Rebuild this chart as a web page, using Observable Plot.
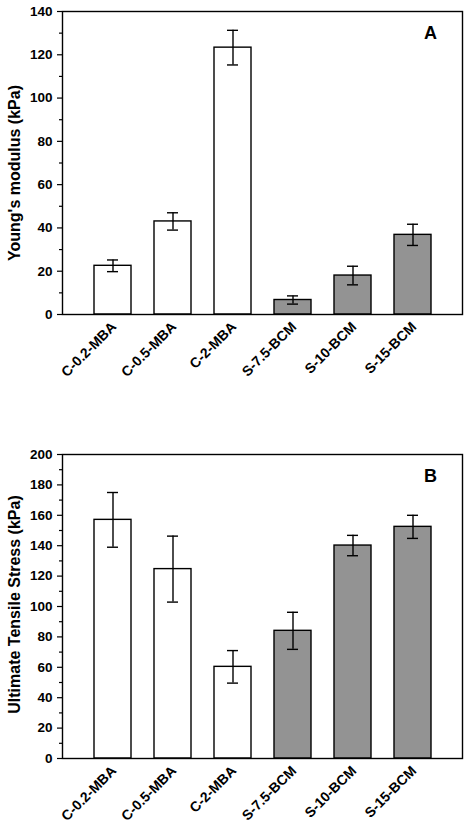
<!DOCTYPE html>
<html>
<head>
<meta charset="utf-8">
<script src="https://cdn.jsdelivr.net/npm/d3@7"></script>
<script src="https://cdn.jsdelivr.net/npm/@observablehq/plot@0.6"></script>
<style>
  html, body { margin: 0; padding: 0; background: #fff; }
  #wrap { width: 468px; }
  svg { display: block; }
</style>
</head>
<body>
<div id="wrap"></div>
<script>
const categories = ["C-0.2-MBA", "C-0.5-MBA", "C-2-MBA", "S-7.5-BCM", "S-10-BCM", "S-15-BCM"];
const groups = ["C", "C", "C", "S", "S", "S"];
const modulus = [22.5, 43, 123.3, 6.7, 18, 36.8];
const modulusErr = [2.7, 4, 8, 1.9, 4.3, 4.9];
const stress = [157, 124.6, 60.3, 84, 140.1, 152.4];
const stressErr = [18, 21.7, 10.7, 12.2, 6.7, 7.6];
const groupColors = ["#ffffff", "#939393"];
const modulusTicks = d3.range(0, 141, 20);
const modulusMinor = d3.range(10, 140, 20);
const stressTicks = d3.range(0, 201, 20);
const stressMinor = d3.range(10, 200, 20);

const FONT = "'Liberation Sans', Arial, Helvetica, sans-serif";

function panel({values, errs, yMax, ticks, minor, title, letter, titleDy, marginTop, marginBottom}) {
  const data = categories.map((c, i) => ({cat: c, grp: groups[i], v: values[i], e: errs[i]}));
  return Plot.plot({
    width: 468,
    height: 414,
    marginLeft: 62,
    marginRight: 6,
    marginTop,
    marginBottom,
    style: {fontFamily: FONT, fontSize: "14px", fontWeight: "bold", color: "black", background: "white"},
    x: {type: "band", domain: categories, paddingInner: 0.39, paddingOuter: 0.5, axis: null},
    y: {domain: [0, yMax], axis: null},
    color: {domain: ["C", "S"], range: groupColors},
    marks: [
      Plot.barY(data, {x: "cat", y: "v", fill: "grp", stroke: "black", strokeWidth: 1.4}),
      Plot.ruleX(data, {x: "cat", y1: d => d.v - d.e, y2: d => d.v + d.e, stroke: "black", strokeWidth: 1.4}),
      Plot.tickY(data, {x: "cat", y: d => d.v + d.e, stroke: "black", strokeWidth: 1.4, insetLeft: 13, insetRight: 13}),
      Plot.tickY(data, {x: "cat", y: d => d.v - d.e, stroke: "black", strokeWidth: 1.4, insetLeft: 13, insetRight: 13}),
      Plot.frame({stroke: "black", strokeWidth: 1.4}),
      Plot.axisY({ticks, tickSize: 5, tickPadding: 5, fontSize: 13.5, fontWeight: "bold", label: null, strokeWidth: 1.2}),
      Plot.axisY({ticks: minor, tickSize: 3, text: null, label: null, strokeWidth: 1.2}),
      Plot.axisX({tickSize: 0, tickRotate: -45, fontSize: 14, fontWeight: "bold", label: null, tickPadding: 10, dx: 1}),
      Plot.text([title], {frameAnchor: "left", text: d => d, rotate: -90, dx: -48, dy: titleDy, fontSize: 16, fontWeight: "bold", textAnchor: "middle", lineAnchor: "middle"}),
      Plot.text([letter], {frameAnchor: "top-right", text: d => d, dx: -32, dy: 22, fontSize: 18, fontWeight: "bold", textAnchor: "middle", lineAnchor: "middle"})
    ]
  });
}

const wrap = document.getElementById("wrap");
wrap.appendChild(panel({values: modulus, errs: modulusErr, yMax: 140, ticks: modulusTicks, minor: modulusMinor,
  title: "Young's modulus (kPa)", letter: "A", titleDy: 10, marginTop: 11, marginBottom: 100}));
wrap.appendChild(panel({values: stress, errs: stressErr, yMax: 200, ticks: stressTicks, minor: stressMinor,
  title: "Ultimate Tensile Stress (kPa)", letter: "B", titleDy: -2, marginTop: 40, marginBottom: 70}));
</script>
</body>
</html>
